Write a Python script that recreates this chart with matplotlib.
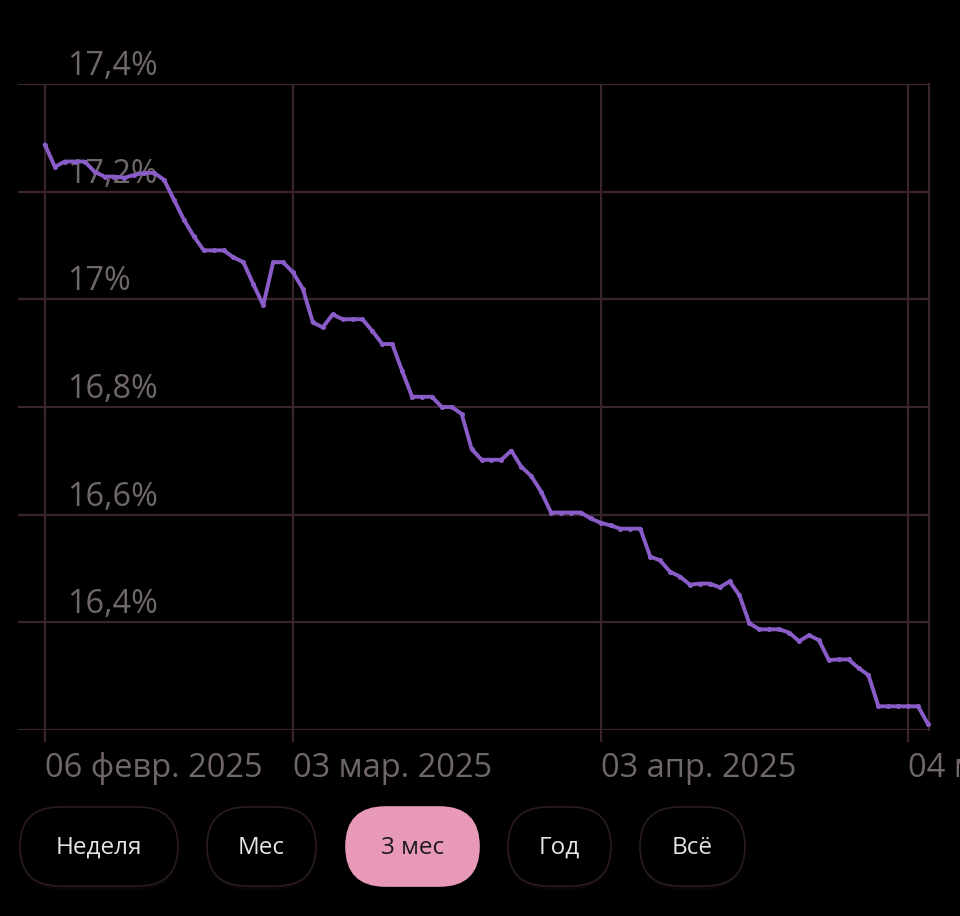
import matplotlib
matplotlib.use("Agg")
import matplotlib.pyplot as plt
import matplotlib.dates as mdates
import matplotlib.transforms as mtransforms
from matplotlib.patches import FancyBboxPatch
import pandas as pd

# ---------------- data ----------------
start_date = "2025-02-06"
rate_values = [
    17.287, 17.246, 17.256, 17.256, 17.256, 17.237, 17.228, 17.228, 17.226, 17.231,
    17.235, 17.235, 17.222, 17.185, 17.148, 17.117, 17.091, 17.091, 17.091, 17.078,
    17.069, 17.028, 16.989, 17.069, 17.069, 17.050, 17.019, 16.957, 16.948, 16.972,
    16.963, 16.963, 16.963, 16.941, 16.917, 16.917, 16.867, 16.819, 16.819, 16.819,
    16.800, 16.800, 16.787, 16.722, 16.702, 16.702, 16.702, 16.719, 16.689, 16.672,
    16.643, 16.604, 16.604, 16.604, 16.604, 16.593, 16.585, 16.580, 16.574, 16.574,
    16.574, 16.522, 16.515, 16.494, 16.485, 16.470, 16.472, 16.472, 16.465, 16.476,
    16.450, 16.398, 16.387, 16.387, 16.387, 16.381, 16.365, 16.376, 16.367, 16.330,
    16.331, 16.331, 16.315, 16.302, 16.244, 16.244, 16.244, 16.244, 16.244, 16.211,
]
y_ticks = [16.2, 16.4, 16.6, 16.8, 17.0, 17.2, 17.4]
y_tick_labels = ["16,2%", "16,4%", "16,6%", "16,8%", "17%", "17,2%", "17,4%"]
x_tick_dates = ["2025-02-06", "2025-03-03", "2025-04-03", "2025-05-04"]
x_tick_labels = ["06 февр. 2025", "03 мар. 2025", "03 апр. 2025", "04 мая 2025"]
buttons = ["Неделя", "Мес", "3 мес", "Год", "Всё"]
active_button = "3 мес"

dates = pd.date_range(start_date, periods=len(rate_values), freq="D")

# ---------------- style ----------------
BG = "#000000"
GRID = "#3a2430"
LABEL = "#6f6769"
LINE = "#8a5cc8"
PINK = "#e899b8"
FONT = ["Open Sans", "DejaVu Sans"]
plt.rcParams["font.family"] = FONT

W, H = 960, 916
fig = plt.figure(figsize=(W / 100, H / 100), dpi=100, facecolor=BG)

left_px, right_px, top_px, bottom_px = 18, 929, 84, 730
ax = fig.add_axes([left_px / W, 1 - bottom_px / H,
                   (right_px - left_px) / W, (bottom_px - top_px) / H])
ax.set_facecolor(BG)

d0 = mdates.date2num(pd.Timestamp(start_date))
ax.set_xlim(d0 - 2.72, d0 + 89.1)
ax.set_ylim(16.2, 17.4)

ax.plot(dates, rate_values, color=LINE, lw=2.8, marker="o", ms=2.6,
        solid_joinstyle="round", zorder=5, clip_on=False)

ax.set_yticks(y_ticks)
ax.set_xticks([mdates.date2num(pd.Timestamp(d)) for d in x_tick_dates])
ax.grid(True, color=GRID, lw=1.6, zorder=1)
for s in ["left", "top", "bottom"]:
    ax.spines[s].set_visible(False)
ax.spines["right"].set_color(GRID)
ax.spines["right"].set_linewidth(1.6)

ax.tick_params(axis="y", length=0, labelleft=False)
ax.tick_params(axis="x", length=8.6, width=1.6, color=GRID, pad=7.5,
               labelsize=23.5, labelcolor=LABEL)
ax.set_xticklabels(x_tick_labels, ha="left")
for lbl in ax.get_xticklabels():
    lbl.set_fontfamily(FONT)

trans = mtransforms.blended_transform_factory(ax.transAxes, ax.transData)
trans_off = trans + mtransforms.ScaledTranslation(0, 1 / 100, fig.dpi_scale_trans)
lx = (67 - left_px) / (right_px - left_px)
for v, t in zip(y_ticks, y_tick_labels):
    if v == y_ticks[0]:
        continue
    ax.text(lx, v, t, transform=trans_off, ha="left", va="bottom",
            fontsize=23.3, color=LABEL, zorder=2, clip_on=False)

# ---------------- buttons ----------------
ov = fig.add_axes([0, 0, 1, 1], facecolor="none")
ov.set_xlim(0, W)
ov.set_ylim(H, 0)
ov.axis("off")


def pill(x0, y0, x1, y1, **kw):
    r = (y1 - y0) / 2
    return FancyBboxPatch((x0 + r, y0 + r), (x1 - x0) - 2 * r, 0,
                          boxstyle=f"round,pad={r},rounding_size={r}", **kw)


btn_x = [(20, 178), (207, 316), (346, 479), (508, 611), (640, 745)]
by0, by1 = 807, 886
for (x0, x1), name in zip(btn_x, buttons):
    active = name == active_button
    if not active:
        for k, a in [(8, 0.10), (5, 0.14), (2, 0.18)]:
            ov.add_patch(pill(x0 + 1, by0 + k, x1 - 1, by1 + k * 0.6,
                              fc="#2a1c24", ec="none", alpha=a, zorder=1))
    ov.add_patch(pill(x0, by0, x1, by1,
                      fc=PINK if active else "#000000",
                      ec=PINK if active else "#2a1a22",
                      lw=1.2, zorder=2))
    ov.text((x0 + x1) / 2, (by0 + by1) / 2 + 1, name, ha="center", va="center",
            fontsize=17.5, color="#1e1a1c" if active else "#e6e4e5", zorder=3)

fig.savefig("out.png", dpi=100, facecolor=BG)
